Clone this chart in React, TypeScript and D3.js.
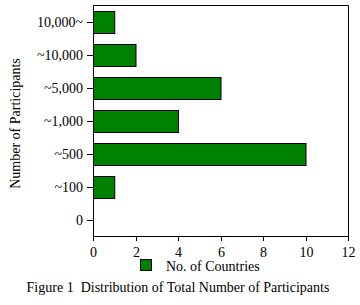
import React from "react";
import * as d3 from "d3";

const categories = ["10,000~", "~10,000", "~5,000", "~1,000", "~500", "~100", "0"];
const countries = [1, 2, 6, 4, 10, 1, 0];
const xTicks = [0, 2, 4, 6, 8, 10, 12];
const seriesName = "No. of Countries";
const yTitle = "Number of Participants";
const caption = "Figure 1  Distribution of Total Number of Participants";

const W = 360;
const H = 305;
const M = { left: 93, right: 348, top: 5, bottom: 236 };
const FONT = "'Liberation Serif', 'DejaVu Serif', serif";

export default function App() {
  const x = d3.scaleLinear().domain([0, 12]).range([M.left, M.right]);
  const y = d3
    .scaleBand<string>()
    .domain(categories)
    .range([M.top, M.bottom])
    .paddingInner(0.34)
    .paddingOuter(0.17);

  return (
    <svg
      width={W}
      height={H}
      style={{ position: "absolute", left: 0, top: 0, background: "#fff" }}
      fontFamily={FONT}
    >
      <rect x={0} y={0} width={W} height={H} fill="#fff" />
      {categories.map((c, i) =>
        countries[i] > 0 ? (
          <rect
            key={c}
            x={x(0) + 0.5}
            y={Math.round(y(c)!) + 0.5}
            width={x(countries[i]) - x(0)}
            height={Math.round(y.bandwidth())}
            fill="#008000"
            stroke="#000"
            strokeWidth={1}
          />
        ) : null
      )}
      <path
        d={`M${M.left + 0.5},${M.top + 0.5} H${M.right + 0.5} V${M.bottom + 0.5}`}
        fill="none"
        stroke="#000"
      />
      <line x1={M.left + 0.5} x2={M.left + 0.5} y1={M.top} y2={M.bottom + 1} stroke="#000" />
      {categories.map((c) => {
        const cy = Math.round(y(c)! + y.bandwidth() / 2) + 0.5;
        return (
          <g key={c}>
            <line x1={M.left - 6} x2={M.left} y1={cy} y2={cy} stroke="#000" />
            <text x={M.left - 10} y={cy} dy="0.35em" textAnchor="end" fontSize={14}>
              {c}
            </text>
          </g>
        );
      })}
      <line x1={M.left} x2={M.right + 1} y1={M.bottom + 0.5} y2={M.bottom + 0.5} stroke="#000" />
      {xTicks.map((t) => {
        const tx = Math.round(x(t)) + 0.5;
        return (
          <g key={t}>
            <line x1={tx} x2={tx} y1={M.bottom} y2={M.bottom + 5} stroke="#000" />
            <text x={tx} y={M.bottom + 21} textAnchor="middle" fontSize={14}>
              {t}
            </text>
          </g>
        );
      })}
      <text
        transform={`translate(20,${(M.top + M.bottom) / 2 + 3}) rotate(-90)`}
        textAnchor="middle"
        fontSize={14}
      >
        {yTitle}
      </text>
      <rect x={140.5} y={259.5} width={11} height={11} fill="#008000" stroke="#000" />
      <text x={166} y={270.5} fontSize={14}>
        {seriesName}
      </text>
      <text x={178} y={292} textAnchor="middle" fontSize={14} style={{ whiteSpace: "pre" }}>
        {caption}
      </text>
    </svg>
  );
}
